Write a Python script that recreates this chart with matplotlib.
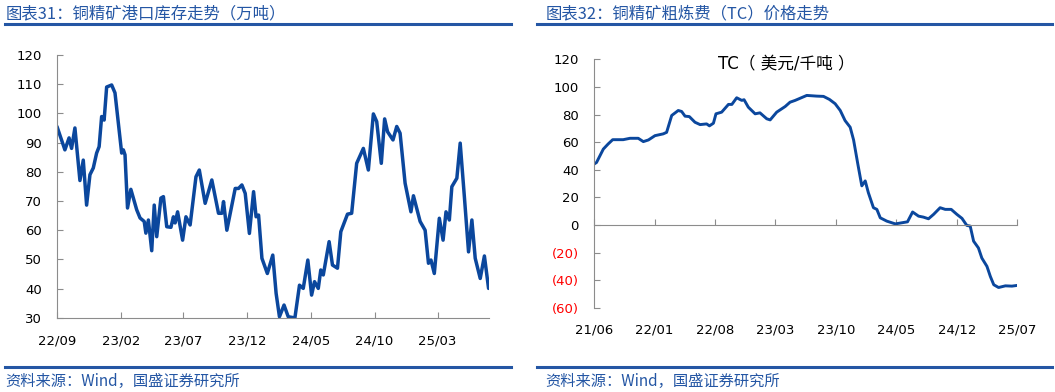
import pandas as pd
import matplotlib
matplotlib.use("Agg")
import matplotlib.pyplot as plt
import matplotlib.dates as mdates

plt.rcParams['font.family'] = ['DejaVu Sans', 'Noto Sans CJK SC']

# ---- chart 31: copper concentrate port inventory (10k t)
inv_dates = [
    "2022-09-01", "2022-09-20", "2022-09-30", "2022-10-06", "2022-10-14", "2022-10-26",
    "2022-11-03", "2022-11-11", "2022-11-19", "2022-11-27", "2022-12-05", "2022-12-11",
    "2022-12-17", "2022-12-23", "2022-12-29", "2023-01-10", "2023-01-18", "2023-02-03",
    "2023-02-07", "2023-02-11", "2023-02-17", "2023-02-25", "2023-03-11", "2023-03-19",
    "2023-03-29", "2023-04-02", "2023-04-08", "2023-04-16", "2023-04-22", "2023-04-28",
    "2023-05-08", "2023-05-14", "2023-05-22", "2023-06-01", "2023-06-07", "2023-06-11",
    "2023-06-17", "2023-06-29", "2023-07-07", "2023-07-17", "2023-07-31", "2023-08-08",
    "2023-08-22", "2023-09-07", "2023-09-23", "2023-10-01", "2023-10-05", "2023-10-13",
    "2023-11-02", "2023-11-10", "2023-11-18", "2023-11-26", "2023-12-06", "2023-12-16",
    "2023-12-22", "2023-12-28", "2024-01-05", "2024-01-18", "2024-01-31", "2024-02-08",
    "2024-02-16", "2024-02-27", "2024-03-08", "2024-03-24", "2024-04-04", "2024-04-13",
    "2024-04-24", "2024-05-03", "2024-05-10", "2024-05-19", "2024-05-25", "2024-05-31",
    "2024-06-14", "2024-06-22", "2024-07-04", "2024-07-12", "2024-07-28", "2024-08-07",
    "2024-08-19", "2024-09-04", "2024-09-16", "2024-09-28", "2024-10-06", "2024-10-17",
    "2024-10-25", "2024-11-01", "2024-11-14", "2024-11-23", "2024-12-01", "2024-12-13",
    "2024-12-27", "2025-01-02", "2025-01-18", "2025-01-30", "2025-02-07", "2025-02-13",
    "2025-02-21", "2025-03-05", "2025-03-14", "2025-03-21", "2025-03-29", "2025-04-04",
    "2025-04-16", "2025-04-24", "2025-05-04", "2025-05-14", "2025-05-22", "2025-05-30",
    "2025-06-11", "2025-06-21", "2025-07-01",
]
inv_values = [
    95.5, 87.5, 91.6, 88, 95, 77,
    84, 68.6, 79, 81.3, 86.4, 88.6,
    98.9, 97.7, 109, 109.7, 107, 86.4,
    87.5, 85.8, 67.6, 74, 67, 64.2,
    63, 59, 63.5, 53, 68.6, 57.8,
    71, 71.5, 61.2, 61, 64.6, 62.5,
    66.3, 56.6, 64.6, 61.8, 78.3, 80.6,
    69.2, 77.2, 65.8, 65.8, 69.8, 60,
    74.3, 74.3, 75.5, 72.6, 58.9, 73.2,
    64.6, 65.2, 50.4, 45.2, 51.5, 38.4,
    30.4, 34.4, 30.4, 30, 41.2, 40.1,
    49.8, 37.8, 42.4, 40.1, 46.4, 44.7,
    56.1, 48.1, 47, 59.5, 65.5, 65.8,
    82.9, 88, 80.6, 99.8, 97.2, 82.9,
    98.1, 93.7, 90.9, 95.5, 93.2, 76.1,
    66.3, 71.8, 63, 60, 48.7, 49.8,
    45.2, 64.1, 56.6, 66.3, 63.5, 74.9,
    77.8, 89.8, 71.5, 52.6, 63.5, 50.4,
    43.5, 51.2, 40.1,
]

# ---- chart 32: TC (USD/t)
tc_dates = [
    "2021-06-01", "2021-06-10", "2021-07-04", "2021-07-21", "2021-08-06", "2021-09-12",
    "2021-10-06", "2021-11-04", "2021-11-22", "2021-12-10", "2022-01-02", "2022-01-31",
    "2022-02-12", "2022-03-02", "2022-03-25", "2022-04-06", "2022-04-18", "2022-05-03",
    "2022-05-23", "2022-06-10", "2022-07-03", "2022-07-13", "2022-07-27", "2022-08-05",
    "2022-08-25", "2022-09-18", "2022-09-30", "2022-10-17", "2022-11-04", "2022-11-12",
    "2022-11-27", "2022-12-21", "2023-01-07", "2023-01-31", "2023-02-12", "2023-03-07",
    "2023-04-06", "2023-04-23", "2023-05-11", "2023-06-21", "2023-07-26", "2023-08-19",
    "2023-09-09", "2023-09-29", "2023-10-17", "2023-11-03", "2023-11-21", "2023-12-03",
    "2023-12-18", "2024-01-01", "2024-01-13", "2024-01-24", "2024-02-11", "2024-02-23",
    "2024-03-06", "2024-03-29", "2024-04-28", "2024-05-21", "2024-06-10", "2024-06-28",
    "2024-07-19", "2024-08-05", "2024-08-23", "2024-09-10", "2024-10-03", "2024-10-21",
    "2024-11-11", "2024-12-01", "2024-12-19", "2025-01-05", "2025-01-17", "2025-01-29",
    "2025-02-15", "2025-02-27", "2025-03-17", "2025-03-29", "2025-04-10", "2025-04-27",
    "2025-05-21", "2025-06-13", "2025-07-01",
]
tc_values = [
    44.1, 45.3, 55, 58.7, 61.8, 61.8,
    62.8, 62.8, 60.4, 61.6, 64.7, 66,
    67.1, 79.3, 82.9, 82.2, 78.8, 78.5,
    74.4, 72.7, 73.2, 71.8, 73.7, 80.5,
    81.7, 87.3, 87.3, 92.1, 90.2, 90.7,
    85.3, 80.5, 81.2, 76.9, 76.1, 81.7,
    85.8, 88.9, 90.2, 93.8, 93.3, 93.1,
    90.9, 87.8, 82.9, 75.6, 70.8, 61.6,
    44.1, 28.4, 32, 23.5, 12.6, 11.4,
    5.3, 2.9, 0.9, 1.7, 2.4, 9.5,
    6.5, 5.8, 4.6, 7.8, 12.6, 11.4,
    11.4, 7.8, 4.9, -0.2, -0.7, -11.6,
    -16.5, -23.8, -29.8, -37.1, -43.1, -45.1,
    -43.9, -44.1, -43.6,
]

inv_yticks = [30, 40, 50, 60, 70, 80, 90, 100, 110, 120]
tc_yticks = [-60, -40, -20, 0, 20, 40, 60, 80, 100, 120]

line_color = "#0B479D"
head_color = "#2456A4"
axis_color = "#8C8C8C"
cjk = ['Noto Sans CJK SC', 'DejaVu Sans']

fig = plt.figure(figsize=(10.55, 3.92), dpi=100)

# headers / footers
fig.text(0.005, 0.965, "图表31：铜精矿港口库存走势（万吨）", color=head_color, fontsize=11.8,
         family=cjk, va='center')
fig.text(0.517, 0.965, "图表32：铜精矿粗炼费（TC）价格走势", color=head_color, fontsize=11.8,
         family=cjk, va='center')
fig.text(0.005, 0.028, "资料来源：Wind，国盛证券研究所", color=head_color, fontsize=11,
         family=cjk, va='center')
fig.text(0.517, 0.028, "资料来源：Wind，国盛证券研究所", color=head_color, fontsize=11,
         family=cjk, va='center')
for x0, x1 in [(0.005, 0.484), (0.509, 0.997)]:
    fig.add_artist(plt.Line2D([x0, x1], [0.938, 0.938], color=head_color, lw=2.2))
    fig.add_artist(plt.Line2D([x0, x1], [0.064, 0.064], color=head_color, lw=2.2))

# ---- left chart
ax1 = fig.add_axes([0.054, 0.189, 0.4095, 0.671])
ax1.plot(pd.to_datetime(inv_dates), inv_values, color=line_color, lw=2.5,
         solid_joinstyle='round', solid_capstyle='round')
ax1.set_ylim(30, 120)
ax1.set_yticks(inv_yticks)
ax1.set_xlim(pd.Timestamp("2022-09-01"), pd.Timestamp("2025-07-02"))
ax1.set_xticks(pd.date_range("2022-09-01", periods=7, freq="5MS"))
ax1.xaxis.set_major_formatter(mdates.DateFormatter("%y/%m"))
for s in ["top", "right"]:
    ax1.spines[s].set_visible(False)
for s in ["left", "bottom"]:
    ax1.spines[s].set_color(axis_color)
ax1.tick_params(direction='in', length=4, color=axis_color, labelsize=9.5, pad=11)
ax1.tick_params(axis='x', pad=12)

# ---- right chart
ax2 = fig.add_axes([0.563, 0.214, 0.401, 0.635])
ax2.plot(pd.to_datetime(tc_dates), tc_values, color=line_color, lw=2.1,
         solid_joinstyle='round', solid_capstyle='round')
ax2.set_ylim(-60, 120)
ax2.set_yticks(tc_yticks, [f"({-v})" if v < 0 else str(v) for v in tc_yticks])
for lab, v in zip(ax2.get_yticklabels(), tc_yticks):
    if v < 0:
        lab.set_color("red")
ax2.set_xlim(pd.Timestamp("2021-06-01"), pd.Timestamp("2025-07-01"))
ax2.set_xticks(pd.date_range("2021-06-01", periods=8, freq="7MS"))
ax2.xaxis.set_major_formatter(mdates.DateFormatter("%y/%m"))
ax2.spines["top"].set_visible(False)
ax2.spines["right"].set_visible(False)
ax2.spines["left"].set_color(axis_color)
ax2.spines["bottom"].set_position(("data", 0))
ax2.spines["bottom"].set_color(axis_color)
ax2.tick_params(direction='in', length=4, color=axis_color, labelsize=9.5, pad=11)
ax2.tick_params(axis='x', pad=71)
ax2.set_title("TC（ 美元/千吨 ）", fontsize=12, y=0.925, x=0.455,
              family=['DejaVu Sans', 'Noto Sans CJK SC'])

fig.savefig("out.png", dpi=100)
